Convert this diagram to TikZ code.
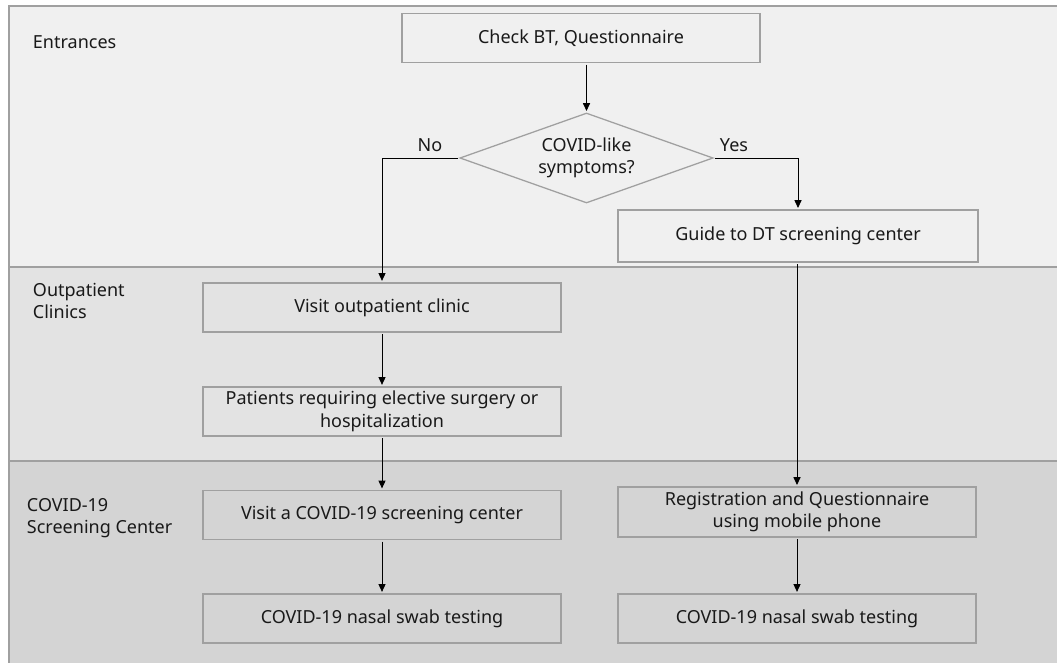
\documentclass[tikz,border=0pt]{standalone}
\usepackage{fontspec}
\setmainfont{Noto Sans}
\usetikzlibrary{shapes.geometric,arrows.meta}

\definecolor{laneA}{HTML}{F0F0F0}
\definecolor{laneB}{HTML}{E3E3E3}
\definecolor{laneC}{HTML}{D4D4D4}
\definecolor{rim}{HTML}{A0A0A0}

\begin{document}
\begin{tikzpicture}[x=0.025cm, y=-0.025cm,
    every node/.style={font=\fontsize{12.8}{16}\selectfont, text=black!90},
    box/.style={draw=rim, line width=0.9pt, minimum width=8.95cm, minimum height=1.23cm, align=center, inner sep=2pt},
    decision/.style={diamond, aspect=3, draw=rim, line width=0.9pt, minimum width=6.33cm, minimum height=2.25cm, inner sep=0pt, align=center},
    arr/.style={->, >={Triangle[length=5.5pt, width=5pt]}, line width=0.6pt, shorten >=1pt, shorten <=1pt},
    lane/.style={anchor=west, align=left}]
        \useasboundingbox (0, 0) rectangle (1057, 663);

        % swim lanes
        \fill[laneA] (9, 6) rectangle (1057, 267);
        \fill[laneB] (9, 267) rectangle (1057, 461);
        \fill[laneC] (9, 461) rectangle (1057, 663);
        \draw[rim, line width=1.2pt] (9, 663) -- (9, 6) -- (1057, 6);
        \draw[rim, line width=1.2pt] (9, 267) -- (1057, 267);
        \draw[rim, line width=1.2pt] (9, 461) -- (1057, 461);

        \node[lane] (entr) at (28, 42) {Entrances};
        \node[lane] (outp) at (28, 301) {Outpatient\\Clinics};
        \node[lane] (scrc) at (22, 518) {COVID-19\\Screening Center};

        % flow
        \node[box] (check) at (581, 38) {Check BT, Questionnaire};
        \node[decision] (dia) at (586.5, 158) {COVID-like\\symptoms?};
        \node[box, minimum width=9cm, minimum height=1.3cm] (guide) at (798, 236) {Guide to DT screening center};

        \node[box] (visit) at (382, 307.5) {Visit outpatient clinic};
        \node[box] (elect) at (382, 411.5) {Patients requiring elective surgery or\\hospitalization};
        \node[box] (screen) at (382, 515) {Visit a COVID-19 screening center};
        \node[box] (swabL) at (382, 618.5) {COVID-19 nasal swab testing};

        \node[box, minimum height=1.25cm] (reg) at (797, 512) {Registration and Questionnaire\\using mobile phone};
        \node[box] (swabR) at (797, 618.5) {COVID-19 nasal swab testing};

        \draw[arr] (check.south -| dia.north) -- (dia.north);
        \draw[arr] (dia.west) -| (visit.north) node[pos=0.19, above=1pt] (no) {No};
        \draw[arr] (dia.east) -| (guide.north) node[pos=0.12, above=1pt] (yes) {Yes};
        \draw[arr] (guide.south -| reg.north) -- (reg.north);
        \draw[arr] (visit) -- (elect);
        \draw[arr] (elect) -- (screen);
        \draw[arr] (screen) -- (swabL);
        \draw[arr] (reg) -- (swabR);
      \end{tikzpicture}
\end{document}
